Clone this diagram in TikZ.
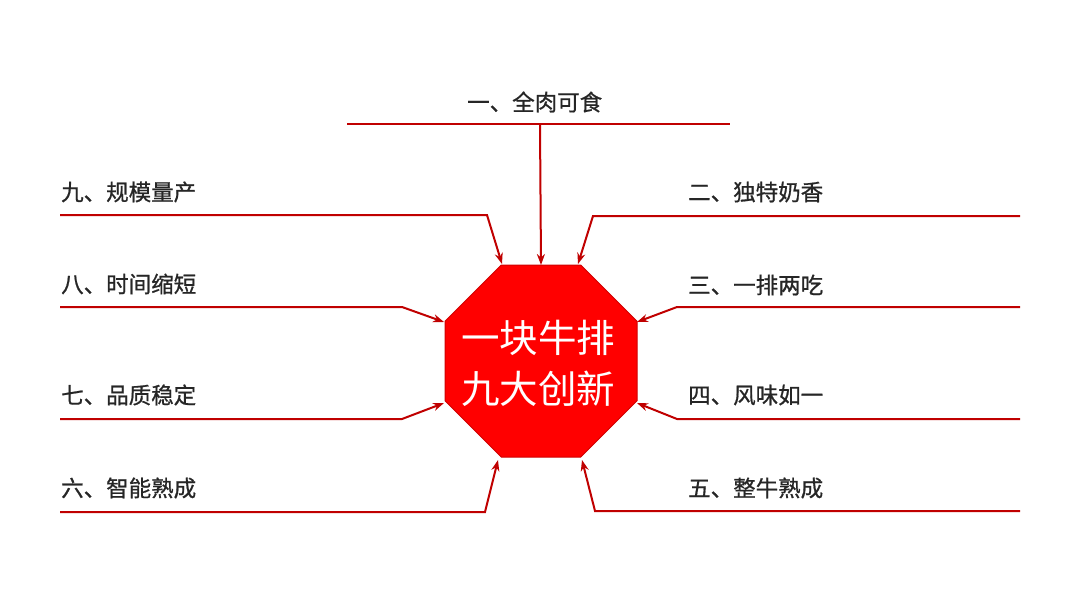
\documentclass[tikz,border=0pt]{standalone}
\usepackage{fontspec}
\newfontfamily\cjk{Noto Sans CJK SC}
\newfontfamily\cjkb[FakeBold=0.8]{Noto Sans CJK SC}
\usetikzlibrary{arrows.meta}
\definecolor{linered}{HTML}{C00000}
\definecolor{octred}{HTML}{FF0000}
\definecolor{octedge}{HTML}{D00000}
\begin{document}
\begin{tikzpicture}[x=1pt,y=-1pt,
  lbl/.style={font=\cjkb\fontsize{22.5}{26}\selectfont, text=black!85, inner sep=0pt, anchor=west},
  bar/.style={draw=linered, line width=2pt},
  conn/.style={draw=linered, line width=2pt, line join=miter, -{Stealth[length=11pt,width=8pt]}},
]
\useasboundingbox (0,0) rectangle (1080,600);
% octagon
\draw[fill=octred, draw=octedge, line width=1pt]
  (501.25,265) -- (580.75,265) -- (637,321.25) -- (637,400.75) -- (580.75,457)
  -- (501.25,457) -- (445,400.75) -- (445,321.25) -- cycle;
\node[font=\cjk\fontsize{38.5}{51}\selectfont, text=white, align=center, inner sep=0pt] (core) at (538,363) {一块牛排\\九大创新};
% tips on the octagon
\coordinate (p1) at (541,265);
\coordinate (p9) at (502,264);
\coordinate (p2) at (578,264);
\coordinate (p8) at (444,322);
\coordinate (p3) at (637,322);
\coordinate (p7) at (444,403);
\coordinate (p4) at (637,403);
\coordinate (p6) at (498,460);
\coordinate (p5) at (582,460);
% free ends and bends
\coordinate (a1) at (347,124); \coordinate (b1) at (730,124); \coordinate (c1) at (540,125);
\coordinate (a9) at (60,215);  \coordinate (k9) at (487,215);
\coordinate (a8) at (60,307);  \coordinate (k8) at (402,307);
\coordinate (a7) at (60,419);  \coordinate (k7) at (402,419);
\coordinate (a6) at (60,512);  \coordinate (k6) at (485,512);
\coordinate (a2) at (1020,216); \coordinate (k2) at (593,216);
\coordinate (a3) at (1020,307); \coordinate (k3) at (677,307);
\coordinate (a4) at (1020,419); \coordinate (k4) at (677,419);
\coordinate (a5) at (1020,511); \coordinate (k5) at (595,511);
% labels
\node[lbl] (l1) at (467,102) {一、全肉可食};
\node[lbl] (l9) at (61,192) {九、规模量产};
\node[lbl] (l8) at (61,284) {八、时间缩短};
\node[lbl] (l7) at (61,395) {七、品质稳定};
\node[lbl] (l6) at (61,488) {六、智能熟成};
\node[lbl] (l2) at (688,192) {二、独特奶香};
\node[lbl] (l3) at (688,285) {三、一排两吃};
\node[lbl] (l4) at (688,395) {四、风味如一};
\node[lbl] (l5) at (688,488) {五、整牛熟成};
% connectors
\draw[bar] (a1) -- (b1);
\draw[conn] (c1) -- (p1);
\draw[conn] (a9) -- (k9) -- (p9);
\draw[conn] (a8) -- (k8) -- (p8);
\draw[conn] (a7) -- (k7) -- (p7);
\draw[conn] (a6) -- (k6) -- (p6);
\draw[conn] (a2) -- (k2) -- (p2);
\draw[conn] (a3) -- (k3) -- (p3);
\draw[conn] (a4) -- (k4) -- (p4);
\draw[conn] (a5) -- (k5) -- (p5);
\end{tikzpicture}
\end{document}
